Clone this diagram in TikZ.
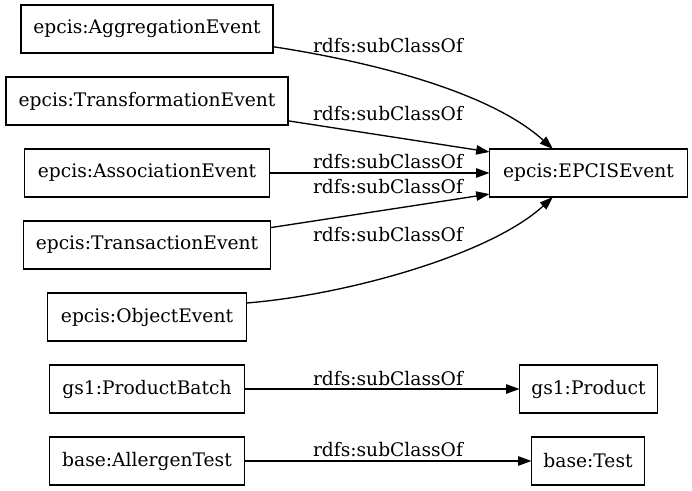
\documentclass[tikz,border=0pt]{standalone}
\usepackage{fontspec}
\setmainfont{DejaVu Serif}
\usetikzlibrary{arrows.meta, positioning}

\begin{document}
\begin{tikzpicture}[
    x=0.75pt, y=-0.75pt,
    node distance=18pt,
    every node/.style={font=\fontsize{14}{16}\selectfont},
    klasse/.style={draw, line width=1pt, outer sep=0pt, minimum height=36pt, inner sep=2pt},
    subrel/.style={-{Triangle[length=10pt, width=7pt]}, line width=1pt},
    etik/.style={inner sep=0pt}
]
\useasboundingbox (0,0) rectangle (692,491);
% left column
\node[klasse, minimum width=189pt] (agg) at (147,29) {epcis:AggregationEvent};
\node[klasse, minimum width=211.5pt, below=of agg] (trans) {epcis:TransformationEvent};
\node[klasse, minimum width=183.75pt, below=of trans] (assoc) {epcis:AssociationEvent};
\node[klasse, minimum width=185.25pt, below=of assoc] (transac) {epcis:TransactionEvent};
\node[klasse, minimum width=149.25pt, below=of transac] (obj) {epcis:ObjectEvent};
\node[klasse, minimum width=146.25pt, below=of obj] (batch) {gs1:ProductBatch};
\node[klasse, minimum width=146.25pt, below=of batch] (allergen) {base:AllergenTest};
% right column
\node[klasse, minimum width=148.5pt, right=165pt of assoc] (epcis) {epcis:EPCISEvent};
\node[klasse, minimum width=103.5pt, right=206.25pt of batch] (product) {gs1:Product};
\node[klasse, minimum width=84.75pt, right=215.25pt of allergen] (test) {base:Test};
% edges
\draw[subrel] (agg.-8) .. controls (373,62) and (490,92) .. (epcis.146);
\draw[subrel] (trans.-8) -- (epcis.168);
\draw[subrel] (assoc) -- (epcis);
\draw[subrel] (transac.8) -- (epcis.192);
\draw[subrel] (obj.8) .. controls (346,295) and (490,255) .. (epcis.-146);
\draw[subrel] (batch) -- (product);
\draw[subrel] (allergen) -- (test);
% labels
\node[etik] (l1) at (388,46) {rdfs:subClassOf};
\node[etik] (l2) at (388,114) {rdfs:subClassOf};
\node[etik] (l3) at (388,161.5) {rdfs:subClassOf};
\node[etik] (l4) at (388,186.5) {rdfs:subClassOf};
\node[etik] (l5) at (388,235) {rdfs:subClassOf};
\node[etik] (l6) at (388,378.5) {rdfs:subClassOf};
\node[etik] (l7) at (388,450) {rdfs:subClassOf};
\end{tikzpicture}
\end{document}
